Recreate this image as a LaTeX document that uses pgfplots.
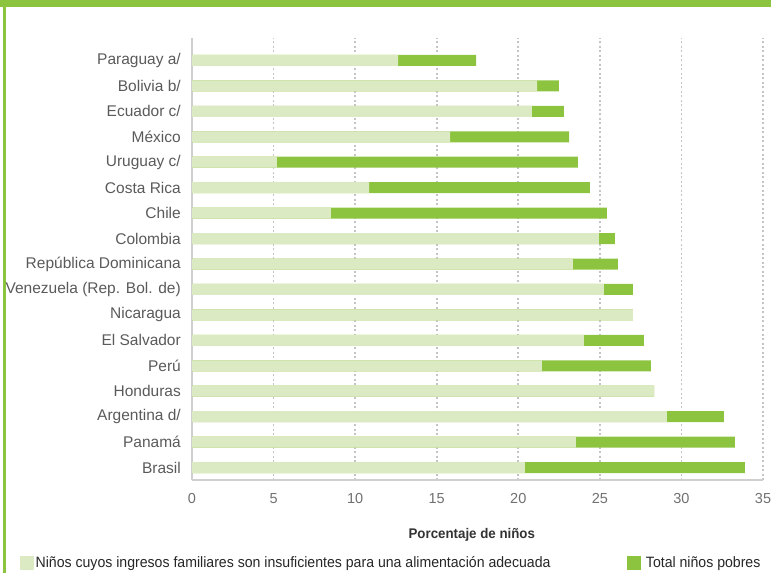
\documentclass[border=0pt]{standalone}
\usepackage{fontspec}
\setmainfont{Liberation Sans}
\newfontfamily\condfont[FakeStretch=0.94]{Liberation Sans}
\newfontfamily\titlefont[FakeStretch=0.95]{Liberation Sans}
\usepackage{pgfplots}
\usepackage{pgfplotstable}
\pgfplotsset{compat=1.18}
\definecolor{darkg}{HTML}{8CC43F}
\definecolor{lightg}{HTML}{DCEAC4}
\definecolor{labg}{HTML}{5A5A5A}
\definecolor{tickg}{HTML}{707070}
\definecolor{axg}{HTML}{CFCFCF}
\definecolor{gridg}{HTML}{C4C4C4}
\pgfplotstableread{
y light total
16 12.63 17.41
15 21.15 22.49
14 20.84 22.80
13 15.82 23.11
12 5.21 23.66
11 10.85 24.39
10 8.52 25.43
9 24.94 25.92
8 23.35 26.11
7 25.25 27.03
6 27.03 27.03
5 24.02 27.70
4 21.45 28.13
3 28.32 28.32
2 29.11 32.60
1 23.53 33.28
0 20.41 33.89
}\datatab
\begin{document}
\begin{tikzpicture}[x=1pt,y=1pt]
\fill[darkg] (0,566) rectangle (771,573);
\fill[darkg] (3.3,0) rectangle (5.8,566);
\begin{axis}[
  scale only axis,
  width=571pt, height=442pt,
  at={(192pt,93pt)}, anchor=south west,
  xmin=0, xmax=35, ymin=-0.49, ymax=16.884,
  axis x line*=bottom, axis y line*=left,
  axis line style={axg, line width=1.6pt},
  xtick={0,5,...,35},
  ytick={0,...,16},
  yticklabels={Brasil,Panamá,Argentina d/,Honduras,Perú,El Salvador,Nicaragua,Venezuela (Rep. Bol. de),República Dominicana,Colombia,Chile,Costa Rica,Uruguay c/,México,Ecuador c/,Bolivia b/,Paraguay a/},
  tick style={draw=none},
  xmajorgrids,
  major grid style={gridg, line width=1.6pt, dash pattern=on 2pt off 2.5pt},
  /pgf/number format/assume math mode=true,
  y tick label style={font=\fontsize{15.5}{18}\selectfont, color=labg, inner sep=0pt, xshift=-11pt},
  x tick label style={font=\fontsize{14.5}{17}\selectfont, color=tickg, yshift=-10pt},
  xlabel={Porcentaje de niños},
  xlabel style={font=\titlefont\bfseries\fontsize{14}{16}\selectfont, color=black!80, at={(axis description cs:0.490,-0.124)}, anchor=center},
  legend columns=2,
  legend cell align=left,
  legend style={draw=none, fill=none, at={(axis description cs:-0.3012,-0.1878)}, anchor=west, inner sep=0pt,
    font=\condfont\fontsize{15}{17}\selectfont, text=black!85,
    nodes={inner xsep=2pt},
    /tikz/every even column/.append style={column sep=74pt}},
  legend image code/.code={\fill[#1] (0pt,-6.5pt) rectangle (13pt,6.5pt);},
]
\addplot[xbar, bar width=11pt, bar shift=0pt, fill=darkg, draw=none, forget plot] table[x=total, y=y] {\datatab};
\addplot[xbar, bar width=11pt, bar shift=0pt, fill=lightg, draw=none, forget plot] table[x=light, y=y] {\datatab};
\addlegendimage{lightg}
\addlegendentry{Niños cuyos ingresos familiares son insuficientes para una alimentación adecuada}
\addlegendimage{darkg}
\addlegendentry{\hspace{4pt}Total niños pobres}
\end{axis}
\pgfresetboundingbox
\path[use as bounding box] (0,0) rectangle (771,573);
\end{tikzpicture}
\end{document}
